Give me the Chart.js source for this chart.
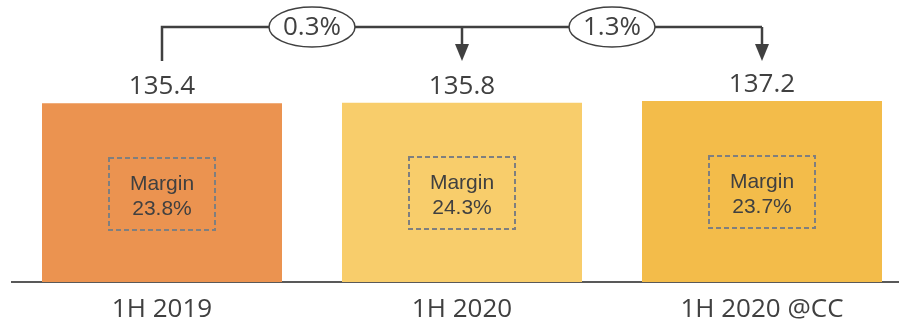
<html lang="en">
<head>
    <title>Half-year revenue</title>
    <style>
        html, body { margin: 0; padding: 0; overflow: hidden; background: #fff; }
        #wrap { width: 912px; height: 325px; }
    </style>
</head>

<body>
    <!--    Chart, a little wider than the page so the last bar sits near the edge   -->
    <div id="wrap"><canvas id="revChart" width="912" height="325"></canvas></div>

    <script src="https://cdn.jsdelivr.net/npm/chart.js"></script>
    <script>
        const periods = ['1H 2019', '1H 2020', '1H 2020 @CC'];
        const revenue = [135.4, 135.8, 137.2];
        const margins = ['23.8%', '24.3%', '23.7%'];
        const growth = ['0.3%', '1.3%'];
        const barColors = ['#EB9350', '#F8CD6B', '#F3BC4A'];

        const textColor = '#404040';

        /**
         * Value labels, margin boxes and the growth bracket over the bars
         */
        const annotations = {
            id: 'annotations',
            afterDatasetsDraw(chart) {
                const ctx = chart.ctx;
                const bars = chart.getDatasetMeta(0).data;
                ctx.save();

                // value above each bar
                ctx.fillStyle = textColor;
                ctx.font = '26px "Open Sans"';
                ctx.textAlign = 'center';
                ctx.textBaseline = 'alphabetic';
                bars.forEach(function (bar, i) {
                    ctx.fillText(revenue[i].toFixed(1), bar.x, bar.y - 9);
                });

                // dashed margin box in the middle of each bar
                bars.forEach(function (bar, i) {
                    const cx = Math.round(bar.x);
                    const cy = Math.round((bar.y + bar.base) / 2) + 1;
                    ctx.setLineDash([5, 3]);
                    ctx.lineWidth = 2;
                    ctx.strokeStyle = '#7F7F7F';
                    ctx.strokeRect(cx - 53, cy - 36, 106, 72);
                    ctx.setLineDash([]);
                    ctx.fillStyle = textColor;
                    ctx.font = '21px "Liberation Sans"';
                    ctx.fillText('Margin', cx, cy - 4);
                    ctx.fillText(margins[i], cx, cy + 21);
                });

                // bracket with arrows between the bars
                const lineY = 27;
                const topY = Math.min.apply(null, bars.map(function (b) { return b.y; }));
                const stemEnd = topY - 40;
                ctx.strokeStyle = textColor;
                ctx.fillStyle = textColor;
                ctx.lineWidth = 2.5;
                ctx.beginPath();
                ctx.moveTo(bars[0].x, stemEnd);
                ctx.lineTo(bars[0].x, lineY);
                ctx.lineTo(bars[bars.length - 1].x, lineY);
                ctx.stroke();
                for (var i = 1; i < bars.length; i++) {
                    const x = bars[i].x;
                    ctx.beginPath();
                    ctx.moveTo(x, lineY);
                    ctx.lineTo(x, stemEnd - 16);
                    ctx.stroke();
                    ctx.beginPath();
                    ctx.moveTo(x - 7, stemEnd - 17);
                    ctx.lineTo(x + 7, stemEnd - 17);
                    ctx.lineTo(x, stemEnd);
                    ctx.closePath();
                    ctx.fill();
                }

                // growth rate ovals
                ctx.font = '26px "Open Sans"';
                for (var j = 0; j < growth.length; j++) {
                    const cx = (bars[j].x + bars[j + 1].x) / 2;
                    ctx.beginPath();
                    ctx.ellipse(cx, lineY, 43, 20, 0, 0, Math.PI * 2);
                    ctx.fillStyle = '#fff';
                    ctx.fill();
                    ctx.lineWidth = 1.5;
                    ctx.stroke();
                    ctx.fillStyle = textColor;
                    ctx.fillText(growth[j], cx, lineY + 8);
                }
                ctx.restore();
            }
        };

        const rev_c = document.getElementById('revChart');
        const revChart = new Chart(rev_c, {
            type: 'bar',
            data: {
                labels: periods,
                datasets: [{
                    data: revenue,
                    backgroundColor: barColors,
                    barPercentage: 0.8,
                    categoryPercentage: 1.0
                }]
            },
            options: {
                responsive: false,
                animation: false,
                layout: { padding: { left: 12, right: 0, top: 18, bottom: -13 } },
                plugins: {
                    legend: { display: false },
                    tooltip: { enabled: false }
                },
                scales: {
                    x: {
                        grid: { display: false, drawTicks: false },
                        border: { display: true, color: '#595959', width: 2 },
                        ticks: {
                            color: textColor,
                            font: { family: '"Open Sans"', size: 26, lineHeight: 1 },
                            padding: 15
                        }
                    },
                    y: { display: false, min: 0, max: 200 }
                }
            },
            plugins: [annotations]
        });
    </script>
</body>
</html>
